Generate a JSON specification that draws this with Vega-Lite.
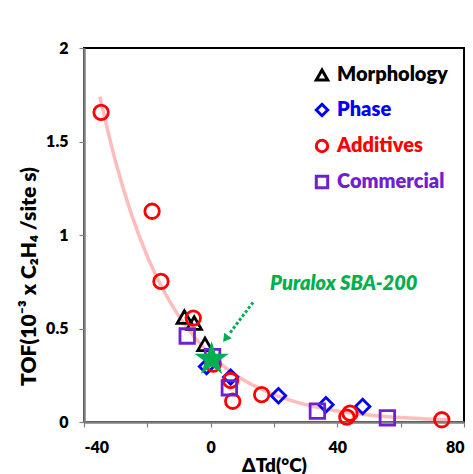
{
  "$schema": "https://vega.github.io/schema/vega-lite/v6.json",
  "width": 380,
  "height": 374,
  "autosize": {"type": "none"},
  "padding": {"left": 84, "top": 48, "right": 9, "bottom": 52},
  "background": "white",
  "config": {
    "font": "Lato",
    "view": {"stroke": "black", "strokeWidth": 2},
    "axis": {
      "grid": false, "labelFont": "Lato", "titleFont": "Lato",
      "labelFontSize": 16, "labelFontWeight": 800, "labelColor": "black",
      "titleFontWeight": 800, "titleColor": "black",
      "domainColor": "#7f7f7f", "domainWidth": 2.5,
      "tickColor": "#7f7f7f", "tickWidth": 1.2, "tickSize": 5
    },
    "legend": {"labelFontWeight": 800, "labelFont": "Lato", "labelFontSize": 20}
  },
  "datasets": {
    "pts": [
      {"x": -8.3, "y": 0.561, "group": "Morphology"},
      {"x": -5.2, "y": 0.529, "group": "Morphology"},
      {"x": -1.8, "y": 0.415, "group": "Morphology"},
      {"x": -1.3, "y": 0.297, "group": "Phase"},
      {"x": 6.3, "y": 0.24, "group": "Phase"},
      {"x": 21.4, "y": 0.14, "group": "Phase"},
      {"x": 36.4, "y": 0.092, "group": "Phase"},
      {"x": 48.0, "y": 0.083, "group": "Phase"},
      {"x": -34.6, "y": 1.656, "group": "Additives"},
      {"x": -18.5, "y": 1.127, "group": "Additives"},
      {"x": -15.7, "y": 0.752, "group": "Additives"},
      {"x": -5.5, "y": 0.556, "group": "Additives"},
      {"x": 0.8, "y": 0.31, "group": "Additives"},
      {"x": 6.3, "y": 0.222, "group": "Additives"},
      {"x": 6.96, "y": 0.111, "group": "Additives"},
      {"x": 16.1, "y": 0.146, "group": "Additives"},
      {"x": 43.0, "y": 0.026, "group": "Additives"},
      {"x": 44.0, "y": 0.047, "group": "Additives"},
      {"x": 73.0, "y": 0.012, "group": "Additives"},
      {"x": -7.4, "y": 0.46, "group": "Commercial"},
      {"x": 0.6, "y": 0.35, "group": "Commercial"},
      {"x": 5.9, "y": 0.183, "group": "Commercial"},
      {"x": 33.7, "y": 0.058, "group": "Commercial"},
      {"x": 55.8, "y": 0.022, "group": "Commercial"}
    ],
    "fit": [
      {"x": -35, "y": 1.74},
      {"x": -30, "y": 1.39},
      {"x": -25, "y": 1.11},
      {"x": -20, "y": 0.885},
      {"x": -15, "y": 0.707},
      {"x": -10, "y": 0.565},
      {"x": -5, "y": 0.451},
      {"x": 0, "y": 0.36},
      {"x": 5, "y": 0.287},
      {"x": 10, "y": 0.229},
      {"x": 15, "y": 0.183},
      {"x": 20, "y": 0.146},
      {"x": 25, "y": 0.117},
      {"x": 30, "y": 0.093},
      {"x": 40, "y": 0.059},
      {"x": 50, "y": 0.038},
      {"x": 60, "y": 0.024},
      {"x": 75, "y": 0.012}
    ],
    "star": [{"x": 0.3, "y": 0.335}],
    "one": [{"a": 1}]
  },
  "layer": [
    {
      "data": {"name": "fit"},
      "mark": {"type": "line", "interpolate": "monotone", "color": "#FFB0B0", "strokeWidth": 3.5, "opacity": 0.85},
      "encoding": {
        "x": {
          "field": "x", "type": "quantitative",
          "scale": {"domain": [-40, 80], "nice": false, "zero": false},
          "axis": {
            "values": [-40, -20, 0, 20, 40, 60, 80],
            "labelExpr": "datum.value % 40 == 0 ? '' + datum.value : ''",
            "title": "ΔTd(°C)",
            "labelPadding": 12,
            "titleFontSize": 19, "titlePadding": 1
          }
        },
        "y": {
          "field": "y", "type": "quantitative",
          "scale": {"domain": [0, 2], "nice": false},
          "axis": {
            "values": [0, 0.5, 1, 1.5, 2],
            "labelExpr": "'' + datum.value",
            "title": "TOF(10⁻³ x C₂H₄ /site s)",
            "labelPadding": 11,
            "titleFontSize": 21,
            "titleY": 228, "titlePadding": 6
          }
        }
      }
    },
    {
      "data": {"name": "pts"},
      "mark": {"type": "point", "filled": false, "strokeWidth": 2.8, "size": 210, "opacity": 1},
      "encoding": {
        "x": {"field": "x", "type": "quantitative"},
        "y": {"field": "y", "type": "quantitative"},
        "color": {
          "field": "group", "type": "nominal",
          "scale": {"domain": ["Morphology", "Phase", "Additives", "Commercial"], "range": ["#000000", "#0000FF", "#FF0000", "#7020D0"]},
          "legend": {
            "title": null, "orient": "none", "legendX": 228, "legendY": 17,
            "symbolSize": 130, "symbolStrokeWidth": 3, "rowPadding": 12, "labelOffset": 5,
            "labelLimit": 300,
            "labelColor": {"expr": "scale('color', datum.value)"}
          }
        },
        "shape": {
          "field": "group", "type": "nominal",
          "scale": {"domain": ["Morphology", "Phase", "Additives", "Commercial"], "range": ["triangle-up", "diamond", "circle", "square"]},
          "legend": {
            "title": null, "orient": "none", "legendX": 228, "legendY": 17,
            "symbolSize": 130, "symbolStrokeWidth": 3, "rowPadding": 12, "labelOffset": 5,
            "labelLimit": 300,
            "labelColor": {"expr": "scale('color', datum.value)"}
          }
        }
      }
    },
    {
      "data": {"name": "star"},
      "mark": {"type": "point", "filled": true, "color": "#00B050", "opacity": 1, "size": 1300,
        "shape": "M0,-1L0.2245,-0.309L0.951,-0.309L0.363,0.118L0.588,0.809L0,0.382L-0.588,0.809L-0.363,0.118L-0.951,-0.309L-0.2245,-0.309Z"},
      "encoding": {
        "x": {"field": "x", "type": "quantitative"},
        "y": {"field": "y", "type": "quantitative"}
      }
    },
    {
      "data": {"name": "one"},
      "mark": {"type": "rule", "color": "#00B050", "strokeWidth": 3, "strokeDash": [3, 2]},
      "encoding": {
        "x": {"datum": 13.4}, "y": {"datum": 0.64},
        "x2": {"datum": 5.8}, "y2": {"datum": 0.47}
      }
    },
    {
      "data": {"name": "one"},
      "mark": {"type": "point", "shape": "triangle-up", "filled": true, "color": "#00B050", "opacity": 1, "size": 90, "angle": 216},
      "encoding": {"x": {"datum": 4.7}, "y": {"datum": 0.445}}
    },
    {
      "data": {"name": "one"},
      "mark": {"type": "text", "color": "#00B050", "fontSize": 20, "fontWeight": 800, "fontStyle": "italic", "font": "Lato", "align": "center", "baseline": "middle"},
      "encoding": {"x": {"datum": 42}, "y": {"datum": 0.74}, "text": {"value": "Puralox SBA-200"}}
    }
  ]
}
